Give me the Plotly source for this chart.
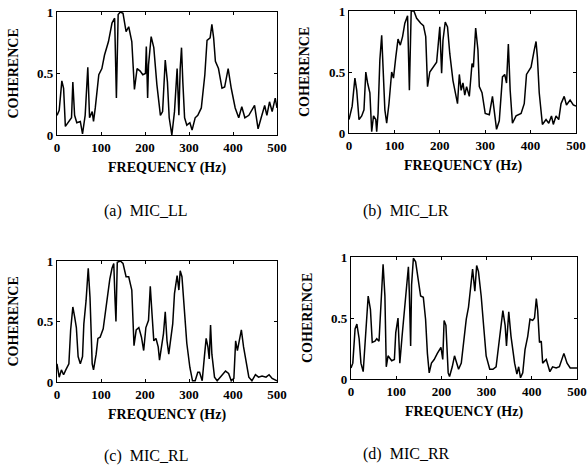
import plotly.graph_objects as go

# ---------------- data ----------------
freq_ll = [0, 5, 11, 15, 19, 27, 33, 36, 40, 45, 53, 58, 64, 70, 74, 80, 83, 87, 95, 102,
           108, 117, 125, 131, 135, 139, 144, 150, 157, 163, 170, 176, 182, 189, 195, 201,
           203, 206, 208, 214, 220, 227, 235, 240, 246, 251, 255, 261, 267, 273, 277, 280,
           283, 286, 290, 295, 302, 307, 314, 320, 328, 336, 341, 348, 352, 356, 360, 367,
           375, 381, 389, 396, 405, 413, 420, 427, 436, 449, 457, 464, 472, 477, 483, 489,
           496, 500]
coh_ll = [0.16, 0.20, 0.44, 0.38, 0.07, 0.11, 0.14, 0.43, 0.16, 0.10, 0.11, 0.01, 0.16, 0.55,
          0.14, 0.19, 0.11, 0.22, 0.49, 0.54, 0.65, 0.76, 0.91, 0.95, 0.30, 0.98, 1.00, 0.99,
          0.84, 0.88, 0.76, 0.37, 0.54, 0.52, 0.49, 0.50, 0.72, 0.30, 0.57, 0.80, 0.71, 0.41,
          0.16, 0.19, 0.61, 0.43, 0.14, 0.00, 0.19, 0.54, 0.16, 0.54, 0.71, 0.43, 0.14, 0.08,
          0.10, 0.04, 0.14, 0.16, 0.22, 0.49, 0.77, 0.79, 0.90, 0.79, 0.60, 0.54, 0.38, 0.39,
          0.54, 0.38, 0.22, 0.14, 0.23, 0.14, 0.16, 0.24, 0.05, 0.14, 0.24, 0.16, 0.27, 0.19,
          0.30, 0.22]

freq_lr = [0, 7, 13, 17, 22, 28, 33, 37, 41, 46, 50, 54, 59, 61, 64, 68, 72, 76, 79, 83,
           88, 94, 98, 103, 108, 113, 118, 123, 129, 133, 137, 143, 149, 158, 164, 169, 173,
           178, 185, 193, 200, 204, 207, 212, 217, 222, 229, 235, 239, 243, 247, 251, 255,
           259, 265, 271, 274, 279, 284, 287, 293, 300, 309, 316, 320, 325, 331, 338, 343,
           347, 351, 355, 360, 368, 379, 386, 391, 401, 408, 412, 415, 419, 426, 434, 440,
           446, 450, 456, 462, 467, 474, 479, 487, 494, 500]
coh_lr = [0.11, 0.22, 0.45, 0.35, 0.11, 0.14, 0.19, 0.50, 0.41, 0.33, 0.01, 0.14, 0.11, 0.01,
          0.16, 0.60, 0.80, 0.46, 0.19, 0.08, 0.24, 0.50, 0.45, 0.62, 0.77, 0.72, 0.79, 0.90,
          0.96, 0.35, 1.00, 1.00, 0.94, 0.90, 0.88, 0.79, 0.38, 0.50, 0.54, 0.58, 0.87, 0.49,
          0.76, 0.91, 0.87, 0.65, 0.43, 0.30, 0.24, 0.48, 0.35, 0.41, 0.31, 0.38, 0.30, 0.57,
          0.54, 0.86, 0.68, 0.38, 0.33, 0.16, 0.15, 0.30, 0.16, 0.03, 0.10, 0.46, 0.48, 0.41,
          0.73, 0.35, 0.08, 0.14, 0.16, 0.24, 0.48, 0.54, 0.68, 0.75, 0.62, 0.33, 0.07, 0.11,
          0.08, 0.14, 0.07, 0.14, 0.11, 0.24, 0.30, 0.23, 0.27, 0.23, 0.22]

freq_rl = [0, 5, 10, 15, 20, 27, 31, 36, 40, 44, 48, 53, 58, 61, 66, 71, 75, 80, 83, 89,
           93, 98, 105, 110, 115, 120, 125, 129, 132, 134, 137, 144, 150, 157, 163, 170, 175,
           180, 186, 192, 197, 202, 208, 212, 216, 220, 225, 230, 233, 239, 242, 246, 250,
           254, 258, 263, 267, 273, 277, 280, 284, 289, 295, 302, 308, 314, 320, 324, 330,
           335, 339, 343, 346, 349, 352, 358, 364, 371, 383, 390, 396, 402, 406, 410, 414,
           419, 424, 430, 436, 443, 451, 458, 466, 475, 482, 489, 500]
coh_rl = [0.15, 0.04, 0.10, 0.06, 0.10, 0.15, 0.43, 0.62, 0.54, 0.45, 0.21, 0.15, 0.21, 0.48,
          0.67, 0.94, 0.70, 0.15, 0.10, 0.23, 0.36, 0.37, 0.44, 0.58, 0.70, 0.85, 0.94, 0.98,
          0.67, 0.50, 0.99, 1.00, 0.98, 0.87, 0.87, 0.76, 0.30, 0.43, 0.45, 0.37, 0.26, 0.45,
          0.51, 0.79, 0.56, 0.34, 0.36, 0.29, 0.18, 0.32, 0.40, 0.58, 0.34, 0.23, 0.34, 0.48,
          0.73, 0.88, 0.76, 0.92, 0.87, 0.65, 0.32, 0.12, 0.01, 0.01, 0.08, 0.08, 0.01, 0.21,
          0.36, 0.29, 0.19, 0.47, 0.23, 0.04, 0.01, 0.04, 0.09, 0.07, 0.01, 0.03, 0.34, 0.26,
          0.34, 0.43, 0.29, 0.15, 0.04, 0.01, 0.06, 0.04, 0.05, 0.04, 0.06, 0.03, 0.01]

freq_rr = [0, 4, 9, 13, 18, 22, 27, 31, 35, 38, 43, 47, 53, 57, 62, 66, 71, 75, 78, 82,
           90, 96, 99, 104, 108, 113, 118, 123, 127, 129, 132, 134, 138, 143, 149, 154, 160,
           165, 169, 173, 178, 184, 191, 199, 203, 206, 210, 215, 218, 224, 229, 234, 238,
           244, 250, 255, 260, 265, 269, 274, 278, 282, 288, 294, 299, 307, 314, 321, 329,
           336, 341, 344, 349, 354, 362, 367, 371, 375, 380, 385, 391, 396, 402, 406, 410,
           413, 417, 421, 424, 432, 440, 446, 454, 461, 471, 478, 485, 500]
coh_rr = [0.09, 0.13, 0.41, 0.45, 0.33, 0.13, 0.06, 0.27, 0.55, 0.68, 0.57, 0.30, 0.31, 0.33,
          0.31, 0.60, 0.94, 0.68, 0.10, 0.19, 0.15, 0.16, 0.38, 0.50, 0.13, 0.35, 0.57, 0.77,
          0.92, 0.71, 0.27, 0.77, 0.99, 0.96, 0.82, 0.68, 0.67, 0.49, 0.21, 0.05, 0.13, 0.16,
          0.21, 0.26, 0.16, 0.48, 0.44, 0.05, 0.02, 0.10, 0.19, 0.13, 0.08, 0.13, 0.35, 0.49,
          0.59, 0.79, 0.90, 0.72, 0.93, 0.88, 0.68, 0.41, 0.19, 0.08, 0.08, 0.10, 0.34, 0.56,
          0.44, 0.27, 0.55, 0.35, 0.13, 0.04, 0.10, 0.01, 0.05, 0.24, 0.35, 0.49, 0.48, 0.50,
          0.66, 0.56, 0.30, 0.31, 0.13, 0.16, 0.06, 0.10, 0.09, 0.10, 0.21, 0.13, 0.09, 0.09]

x_ticks = [0, 100, 200, 300, 400, 500]
y_ticks = [0, 0.5, 1]
y_tick_text = ["0", "0.5", "1"]
captions = ["(a)  MIC_LL", "(b)  MIC_LR", "(c)  MIC_RL", "(d)  MIC_RR"]
x_title = "FREQUENCY (Hz)"
y_title = "COHERENCE"

# ---------------- layout geometry (pixels in the 587x469 page) ----------------
W, H = 587, 469
boxes = [  # left, right, top, bottom
    (57, 277, 12, 135),
    (349, 576, 11, 133),
    (57, 277, 261, 382),
    (351, 577, 257, 379),
]
caption_y = [211, 211, 456, 454]
caption_x = [146, 406, 146, 406]

series = [(freq_ll, coh_ll), (freq_lr, coh_lr), (freq_rl, coh_rl), (freq_rr, coh_rr)]

fig = go.Figure()
serif = "Liberation Serif, Times New Roman, serif"
layout = dict(
    width=W, height=H, autosize=False,
    margin=dict(l=0, r=0, t=0, b=0, pad=0, autoexpand=False),
    paper_bgcolor="white", plot_bgcolor="white",
    showlegend=False,
    font=dict(family=serif, color="black"),
)
annotations = []
for i, ((fx, fy), (l, r, t, b)) in enumerate(zip(series, boxes)):
    n = "" if i == 0 else str(i + 1)
    fig.add_trace(go.Scatter(
        x=fx, y=fy, mode="lines",
        line=dict(color="black", width=1.5),
        xaxis="x" + n, yaxis="y" + n, hoverinfo="skip",
    ))
    axis_common = dict(
        showgrid=False, zeroline=False, showline=True, linecolor="black", linewidth=1.2,
        mirror="ticks", ticks="inside", ticklen=3, tickcolor="black", automargin=False,
        tickfont=dict(family=serif, size=13, color="black", weight="bold"),
    )
    layout["xaxis" + n] = dict(
        domain=[l / W, r / W], anchor="y" + n, range=[0, 500],
        tickvals=x_ticks, ticktext=[str(v) for v in x_ticks], **axis_common,
    )
    layout["yaxis" + n] = dict(
        domain=[1 - b / H, 1 - t / H], anchor="x" + n, range=[0, 1],
        tickvals=y_ticks, ticktext=y_tick_text, **axis_common,
    )
    # x-axis title
    annotations.append(dict(
        text=x_title, xref="paper", yref="paper",
        x=(l + r) / 2 / W, y=1 - (b + 33) / H, showarrow=False,
        xanchor="center", yanchor="middle",
        font=dict(family=serif, size=14, color="black", weight="bold"),
    ))
    # y-axis title
    annotations.append(dict(
        text=y_title, xref="paper", yref="paper",
        x=(l - 44) / W, y=1 - (t + b) / 2 / H, showarrow=False, textangle=-90,
        xanchor="center", yanchor="middle",
        font=dict(family=serif, size=14, color="black", weight="bold"),
    ))
    # caption
    annotations.append(dict(
        text=captions[i], xref="paper", yref="paper",
        x=caption_x[i] / W, y=1 - caption_y[i] / H, showarrow=False,
        xanchor="center", yanchor="middle",
        font=dict(family=serif, size=16, color="black"),
    ))

layout["annotations"] = annotations
fig.update_layout(**layout)
fig.write_html(
    "out.html",
    config={"displayModeBar": False, "staticPlot": True},
    post_script="document.body.style.margin='0';document.body.style.overflow='hidden';",
)
